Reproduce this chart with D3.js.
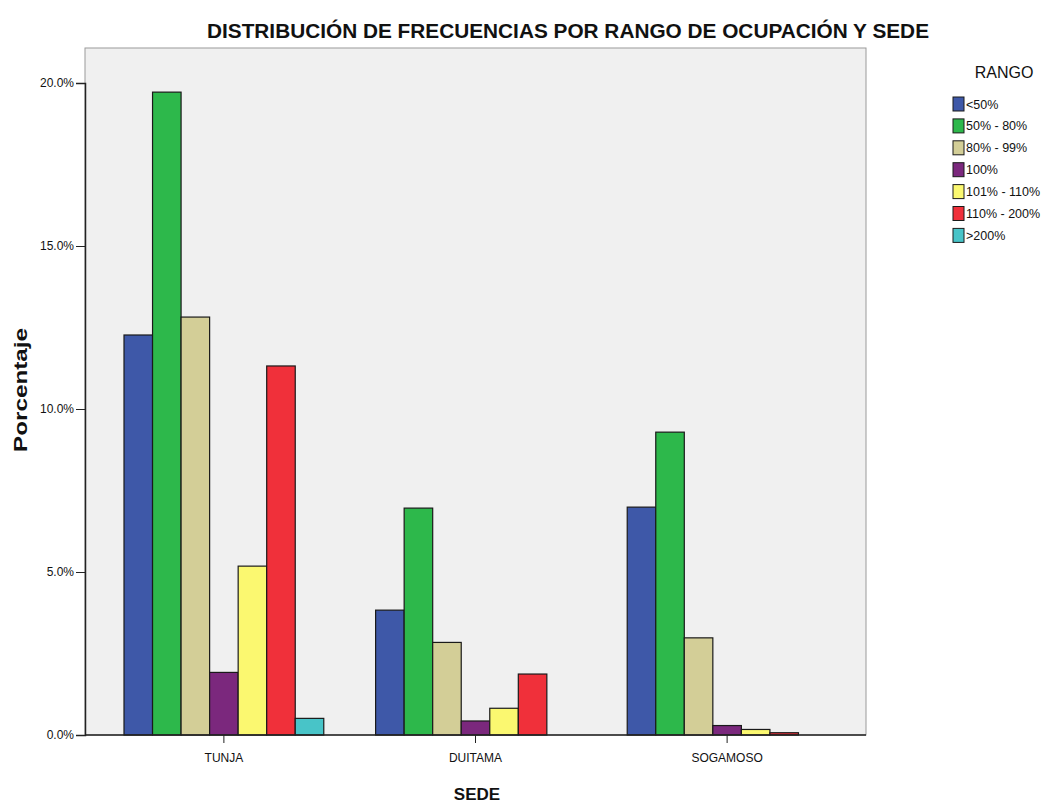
<!DOCTYPE html>
<html lang="es">
<head>
<meta charset="UTF-8">
<title>Distribución de frecuencias</title>
<script src="https://d3js.org/d3.v7.min.js"></script>
<style>
    body { margin: 0; background: #fff; }
    svg text { font-family: "Liberation Sans Narrow", "Liberation Sans", Arial, sans-serif; fill: #111; }
    .tick text { font-size: 12px; }
    .tick line, .domain { stroke: #222; }
</style>
</head>
<body>
<svg id="canvas" width="1057" height="805"></svg>
<script>
    // datos
    const sedes = ["TUNJA", "DUITAMA", "SOGAMOSO"];
    const rangos = ["<50%", "50% - 80%", "80% - 99%", "100%", "101% - 110%", "110% - 200%", ">200%"];
    const tunja = [12.27, 19.72, 12.82, 1.92, 5.18, 11.32, 0.51];
    const duitama = [3.83, 6.96, 2.84, 0.43, 0.82, 1.87, 0.0];
    const sogamoso = [6.99, 9.29, 2.98, 0.29, 0.17, 0.07, 0.0];
    const colores = ["#3e58a8", "#2db84b", "#d3ce97", "#7b287d", "#fbf870", "#f0303a", "#48c4c8"];
    const yTicks = [0, 5, 10, 15, 20];

    const series = [tunja, duitama, sogamoso];

    let svg = d3.select('svg');
    const pLeft = 85, pRight = 866, pTop = 48, pBottom = 735;

    let x = d3.scaleBand().domain(sedes).range([pLeft, pRight])
        .paddingInner(0.206).paddingOuter(0.155);
    let xi = d3.scaleBand().domain(rangos).range([0, x.bandwidth()]);
    let y = d3.scaleLinear().domain([0, 20]).range([pBottom, pBottom - 652]);

    // fondo del area de grafico
    svg.append('rect')
        .attr('x', pLeft).attr('y', pTop)
        .attr('width', pRight - pLeft).attr('height', pBottom - pTop)
        .attr('fill', '#f0f0f0').attr('stroke', '#9a9a9a').attr('stroke-width', 1);

    // barras
    let groups = svg.append('g').selectAll('g')
        .data(sedes)
        .enter().append('g')
        .attr('transform', d => `translate(${x(d)},0)`);

    groups.selectAll('rect')
        .data((d, i) => series[i].map((v, j) => ({rango: rangos[j], v: v, c: colores[j]})))
        .enter().append('rect')
        .attr('x', d => xi(d.rango))
        .attr('y', d => y(d.v))
        .attr('width', xi.bandwidth())
        .attr('height', d => pBottom - y(d.v))
        .attr('fill', d => d.c)
        .attr('stroke', '#1a1a1a')
        .attr('stroke-width', 1.2);

    // ejes
    svg.append('g')
        .attr('transform', `translate(${pLeft},0)`)
        .call(d3.axisLeft(y).tickValues(yTicks).tickSize(9).tickPadding(2)
            .tickFormat(d => d.toFixed(1) + '%'))
        .call(g => g.select('.domain').attr('stroke-width', 1.5));

    svg.append('g')
        .attr('transform', `translate(0,${pBottom})`)
        .call(d3.axisBottom(x).tickSize(8).tickPadding(10).tickSizeOuter(0))
        .call(g => g.select('.domain').attr('d', `M${pLeft},0H${pRight}`).attr('stroke-width', 1.5));

    // titulos
    svg.append('text')
        .attr('x', 568).attr('y', 38)
        .attr('text-anchor', 'middle')
        .attr('font-size', 21).attr('font-weight', 'bold')
        .attr('textLength', 722).attr('lengthAdjust', 'spacingAndGlyphs')
        .text('DISTRIBUCIÓN DE FRECUENCIAS POR RANGO DE OCUPACIÓN Y SEDE');

    svg.append('text')
        .attr('transform', 'translate(27,390) rotate(-90)')
        .attr('text-anchor', 'middle')
        .attr('font-size', 18).attr('font-weight', 'bold')
        .style('font-family', '"Liberation Sans", Arial, sans-serif')
        .attr('textLength', 124).attr('lengthAdjust', 'spacingAndGlyphs')
        .text('Porcentaje');

    svg.append('text')
        .attr('x', 477).attr('y', 800)
        .attr('text-anchor', 'middle')
        .attr('font-size', 17).attr('font-weight', 'bold')
        .text('SEDE');

    // leyenda
    let legend = svg.append('g').attr('transform', 'translate(953,0)');
    legend.append('text')
        .attr('x', 51).attr('y', 78)
        .attr('text-anchor', 'middle')
        .attr('font-size', 16)
        .text('RANGO');
    let items = legend.selectAll('g.item')
        .data(rangos)
        .enter().append('g')
        .attr('class', 'item')
        .attr('transform', (d, i) => `translate(0,${97 + i * 21.9})`);
    items.append('rect')
        .attr('width', 11).attr('height', 14)
        .attr('fill', (d, i) => colores[i])
        .attr('stroke', '#1a1a1a').attr('stroke-width', 1);
    items.append('text')
        .attr('x', 13).attr('y', 11.5)
        .attr('font-size', 12.5)
        .text(d => d);
</script>
</body>
</html>
